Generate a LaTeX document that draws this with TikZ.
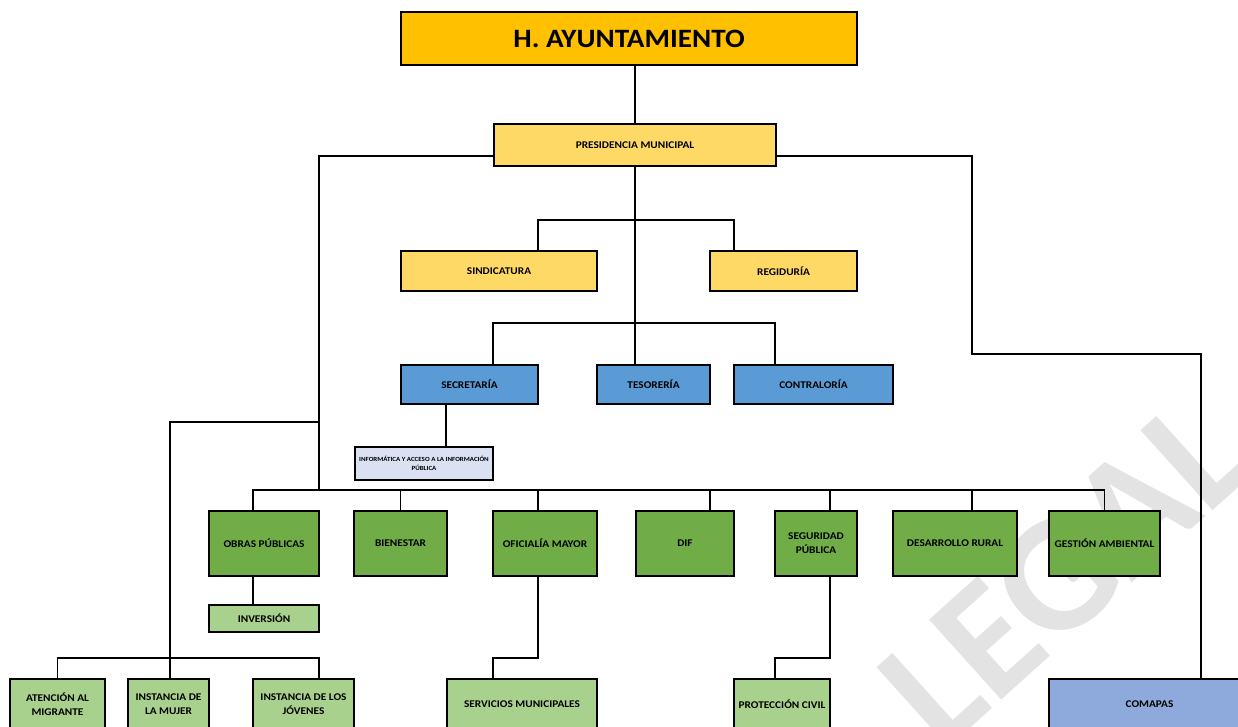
\documentclass[tikz,border=0pt]{standalone}
\usepackage{fontspec}
\setmainfont{Carlito}[FakeStretch=1.1]
\newfontfamily\wmfont{Carlito}
\definecolor{cgold}{HTML}{FFC000}
\definecolor{cyel}{HTML}{FFD966}
\definecolor{cblue}{HTML}{5B9BD5}
\definecolor{clav}{HTML}{D9E1F2}
\definecolor{cgreen}{HTML}{70AD47}
\definecolor{clgreen}{HTML}{A9D18E}
\definecolor{cpblue}{HTML}{8EA9DB}
\definecolor{wm}{HTML}{E3E3E3}
\tikzset{
  box/.style={draw=black, line width=1.2pt, inner sep=0pt, align=center,
    font=\bfseries\fontsize{10.3}{14}\selectfont},
  conn/.style={draw=black, line width=1.2pt},
}
\begin{document}
\begin{tikzpicture}[x=1pt,y=-1pt]
\useasboundingbox (0,0) rectangle (1238,726);
\clip (0,0) rectangle (1238,726);
\fill[white] (0,0) rectangle (1238,726);
% watermark
\node[rotate=42, anchor=base west, text=wm, inner sep=0pt,
  font=\wmfont\bfseries\fontsize{166}{166}\selectfont] (wmark) at (942,754) {LEGAL};
% helper levels
\coordinate (y220) at (0,220);
\coordinate (y323) at (0,323);
\coordinate (y490) at (0,490);
\coordinate (y658) at (0,658);
% nodes
\node[box, fill=cgold, minimum width=456pt, minimum height=53pt,
  font=\bfseries\fontsize{26.5}{30}\selectfont] (ha) at (629,38.5) {H. AYUNTAMIENTO};
\node[box, fill=cyel, minimum width=282pt, minimum height=42pt] (pres) at (635,145) {PRESIDENCIA MUNICIPAL};
\node[box, fill=cyel, minimum width=196pt, minimum height=40pt] (sind) at (499,271) {SINDICATURA};
\node[box, fill=cyel, minimum width=147pt, minimum height=40pt] (reg) at (783.5,271) {REGIDURÍA};
\node[box, fill=cblue, minimum width=137pt, minimum height=39pt] (sec) at (469.5,384.5) {SECRETARÍA};
\node[box, fill=cblue, minimum width=113pt, minimum height=39pt] (tes) at (653.5,384.5) {TESORERÍA};
\node[box, fill=cblue, minimum width=159pt, minimum height=39pt] (con) at (813.5,384.5) {CONTRALORÍA};
\node[box, fill=clav, minimum width=138pt, minimum height=33pt,
  font=\bfseries\fontsize{6.3}{8.5}\selectfont] (inf) at (424,463.5) {INFORMÁTICA Y ACCESO A LA INFORMACIÓN\\PÚBLICA};
\node[box, fill=cgreen, minimum width=110pt, minimum height=65pt] (obras) at (264,543.5) {OBRAS PÚBLICAS};
\node[box, fill=cgreen, minimum width=93pt, minimum height=65pt] (bien) at (400.5,543.5) {BIENESTAR};
\node[box, fill=cgreen, minimum width=104pt, minimum height=65pt] (ofic) at (545,543.5) {OFICIALÍA MAYOR};
\node[box, fill=cgreen, minimum width=98pt, minimum height=65pt] (dif) at (685,543.5) {DIF};
\node[box, fill=cgreen, minimum width=82pt, minimum height=65pt] (seg) at (816,543.5) {SEGURIDAD\\PÚBLICA};
\node[box, fill=cgreen, minimum width=124pt, minimum height=65pt] (des) at (955,543.5) {DESARROLLO RURAL};
\node[box, fill=cgreen, minimum width=111pt, minimum height=65pt] (ges) at (1104.5,543.5) {GESTIÓN AMBIENTAL};
\node[box, fill=clgreen, minimum width=110pt, minimum height=27pt] (inv) at (264,618.5) {INVERSIÓN};
\node[box, fill=clgreen, minimum width=95pt, minimum height=50pt] (aten) at (57.5,704) {ATENCIÓN AL\\MIGRANTE};
\node[box, fill=clgreen, minimum width=81pt, minimum height=50pt] (mujer) at (168.5,704) {INSTANCIA DE\\LA MUJER};
\node[box, fill=clgreen, minimum width=101pt, minimum height=50pt] (jov) at (303.5,704) {INSTANCIA DE LOS\\JÓVENES};
\node[box, fill=clgreen, minimum width=150pt, minimum height=50pt] (serv) at (522,704) {SERVICIOS MUNICIPALES};
\node[box, fill=clgreen, minimum width=96pt, minimum height=50pt] (prot) at (782,704) {PROTECCIÓN CIVIL};
\node[box, fill=cpblue, minimum width=201pt, minimum height=50pt] (comapas) at (1149.5,704) {COMAPAS};
% extra junction coordinates
\coordinate (lbus) at (319,490);
\coordinate (lj) at (319,422);
\coordinate (rj) at (972,354);
% connectors
\draw[conn] (pres.north |- ha.south) -- (pres.north);
\draw[conn] (pres.south) -- (pres.south |- tes.north);
\draw[conn] ([xshift=39pt]sind.north) |- ([xshift=-49.5pt]reg.north |- y220) -- ([xshift=-49.5pt]reg.north);
\draw[conn] ([xshift=23.5pt]sec.north) |- ([xshift=-38.5pt]con.north |- y323) -- ([xshift=-38.5pt]con.north);
\draw[conn] ([xshift=-23.5pt]sec.south) -- ([xshift=22pt]inf.north);
\draw[conn] ([yshift=-11pt]pres.west) -| (lbus);
\draw[conn] ([yshift=-11pt]pres.east) -| (rj) -| ([xshift=51.5pt]comapas.north);
\draw[conn] ([xshift=-11pt]obras.north) |- (ges.north |- y490) -- (ges.north);
\draw[conn] (bien.north) -- (bien.north |- y490);
\draw[conn] ([xshift=-7pt]ofic.north) -- ([xshift=-7pt]ofic.north |- y490);
\draw[conn] ([xshift=25pt]dif.north) -- ([xshift=25pt]dif.north |- y490);
\draw[conn] ([xshift=14pt]seg.north) -- ([xshift=14pt]seg.north |- y490);
\draw[conn] ([xshift=17pt]des.north) -- ([xshift=17pt]des.north |- y490);
\draw[conn] ([xshift=-11pt]obras.south) -- ([xshift=-11pt]inv.north);
\draw[conn] ([xshift=-7pt]ofic.south) |- ([xshift=-29pt]serv.north |- y658) -- ([xshift=-29pt]serv.north);
\draw[conn] ([xshift=14pt]seg.south) |- ([xshift=-7pt]prot.north |- y658) -- ([xshift=-7pt]prot.north);
\draw[conn] (lj) -| ([xshift=1.5pt]mujer.north);
\draw[conn] (aten.north) |- ([xshift=15.5pt]jov.north |- y658) -- ([xshift=15.5pt]jov.north);
\end{tikzpicture}
\end{document}
